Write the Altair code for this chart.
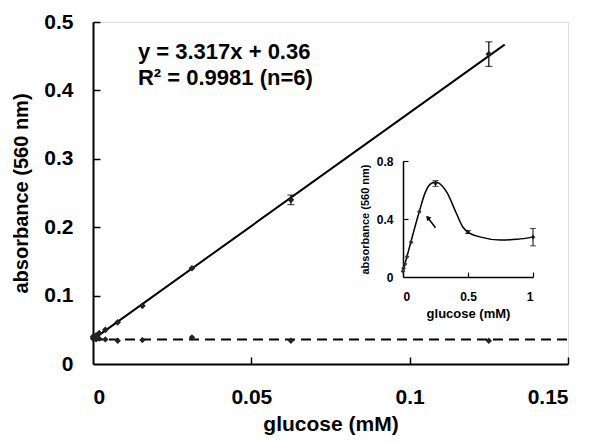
import altair as alt
import pandas as pd

FONT = "Liberation Sans"

# ---- main panel data ----
fit_x = [0.0, 0.13]
fit_y = [0.036, 0.467]
main_x = [0.0, 0.00098, 0.00195, 0.0039, 0.0078, 0.0156, 0.03125, 0.0625, 0.125]
main_y = [0.040, 0.042, 0.045, 0.050, 0.061, 0.085, 0.140, 0.240, 0.453]
main_err = [0.0, 0.0, 0.0, 0.0, 0.002, 0.002, 0.003, 0.007, 0.018]
ctrl_x = [0.0, 0.00098, 0.00195, 0.0039, 0.0078, 0.0156, 0.03125, 0.0625, 0.125]
ctrl_y = [0.037, 0.036, 0.037, 0.036, 0.034, 0.035, 0.039, 0.034, 0.034]
dash_x = [0.0, 0.15]
dash_y = [0.036, 0.036]
eq_text = ["y = 3.317x + 0.36", "R\u00b2 = 0.9981 (n=6)"]
eq_x = [0.0142, 0.0142]
eq_y = [0.456, 0.418]

# ---- inset data ----
ins_x = [0.0, 0.0039, 0.0156, 0.03125, 0.0625, 0.125, 0.25, 0.5, 1.0]
ins_y = [0.04, 0.06, 0.09, 0.14, 0.24, 0.45, 0.645, 0.31, 0.275]
ins_err = [0.0, 0.0, 0.0, 0.0, 0.0, 0.0, 0.02, 0.01, 0.06]
curve_x = [0.0, 0.03, 0.06, 0.125, 0.17, 0.21, 0.25, 0.3, 0.34, 0.41, 0.46, 0.5, 0.6, 0.75, 0.88, 1.0]
curve_y = [0.04, 0.14, 0.24, 0.45, 0.58, 0.64, 0.655, 0.63, 0.58, 0.44, 0.345, 0.31, 0.275, 0.255, 0.26, 0.275]
arrow_x = [0.25, 0.19]
arrow_y = [0.34, 0.41]

W, H = 475, 342
INS_X_RANGE = [310, 440]
INS_Y_RANGE = [255, 139]

fit_df = pd.DataFrame({"x": fit_x, "y": fit_y})
main_df = pd.DataFrame({"x": main_x, "y": main_y,
                        "lo": [a - b for a, b in zip(main_y, main_err)],
                        "hi": [a + b for a, b in zip(main_y, main_err)]})
err_df = main_df[main_df["x"] > 0.05]
ctrl_df = pd.DataFrame({"x": ctrl_x, "y": ctrl_y})
dash_df = pd.DataFrame({"x": dash_x, "y": dash_y})
eq_df = pd.DataFrame({"x": eq_x, "y": eq_y, "t": eq_text})

ins_df = pd.DataFrame({"x": ins_x, "y": ins_y,
                       "lo": [a - b for a, b in zip(ins_y, ins_err)],
                       "hi": [a + b for a, b in zip(ins_y, ins_err)]})
ins_err_df = ins_df[ins_df["x"] >= 0.25]
curve_df = pd.DataFrame({"x": curve_x, "y": curve_y})
arrow_df = pd.DataFrame({"x": arrow_x, "y": arrow_y})
arrow_head = arrow_df.iloc[[1]]

mxs = alt.Scale(domain=[0, 0.15], nice=False, zero=False)
mys = alt.Scale(domain=[0, 0.5], nice=False, zero=False)
ixs = alt.Scale(domain=[0, 1], nice=False, zero=False, range=INS_X_RANGE)
iys = alt.Scale(domain=[0, 0.8], nice=False, zero=False, range=INS_Y_RANGE)

main_x_axis = alt.Axis(orient="bottom", values=[0, 0.05, 0.1, 0.15], format=".2~f",
                       tickSize=0, labelPadding=22, titlePadding=6, grid=False,
                       domainColor="black", domainWidth=2,
                       labelFont=FONT, labelFontSize=21, labelFontWeight="bold", labelColor="black",
                       titleFont=FONT, titleFontSize=21, titleFontWeight="bold", titleColor="black")
main_y_axis = alt.Axis(orient="left", values=[0, 0.1, 0.2, 0.3, 0.4, 0.5], format=".1~f",
                       tickSize=0, labelPadding=20, titlePadding=12, grid=False,
                       domainColor="black", domainWidth=2,
                       labelFont=FONT, labelFontSize=21, labelFontWeight="bold", labelColor="black",
                       titleFont=FONT, titleFontSize=20, titleFontWeight="bold", titleColor="black")
main_x_ticks = alt.Axis(orient="bottom", values=[0.05, 0.1, 0.15], offset=-7, tickSize=7,
                        tickWidth=1.5, tickColor="black", labels=False, domain=False, grid=False)
main_y_ticks = alt.Axis(orient="left", values=[0.1, 0.2, 0.3, 0.4, 0.5], offset=-7, tickSize=7,
                        tickWidth=1.5, tickColor="black", labels=False, domain=False, grid=False)

fit = alt.Chart(fit_df).mark_line(color="black", strokeWidth=2).encode(
    x=alt.X("x:Q", scale=mxs, axis=main_x_axis, title="glucose (mM)"),
    y=alt.Y("y:Q", scale=mys, axis=main_y_axis, title="absorbance  (560 nm)"))
dash = alt.Chart(dash_df).mark_line(color="black", strokeWidth=2, strokeDash=[10, 6]).encode(
    x=alt.X("x:Q", scale=mxs, axis=None), y=alt.Y("y:Q", scale=mys, axis=None))
ebar = alt.Chart(err_df).mark_rule(color="black", strokeWidth=1.2).encode(
    x=alt.X("x:Q", scale=mxs, axis=None), y=alt.Y("lo:Q", scale=mys, axis=None), y2="hi:Q")
ecap_lo = alt.Chart(err_df).mark_tick(color="black", orient="horizontal", size=7, thickness=1.2).encode(
    x=alt.X("x:Q", scale=mxs, axis=None), y=alt.Y("lo:Q", scale=mys, axis=None))
ecap_hi = alt.Chart(err_df).mark_tick(color="black", orient="horizontal", size=7, thickness=1.2).encode(
    x=alt.X("x:Q", scale=mxs, axis=None), y=alt.Y("hi:Q", scale=mys, axis=None))
pts = alt.Chart(main_df).mark_point(shape="diamond", filled=True, color="#222222", size=45, opacity=1).encode(
    x=alt.X("x:Q", scale=mxs, axis=None), y=alt.Y("y:Q", scale=mys, axis=None))
cpts = alt.Chart(ctrl_df).mark_point(shape="diamond", filled=True, color="#222222", size=40, opacity=1).encode(
    x=alt.X("x:Q", scale=mxs, axis=None), y=alt.Y("y:Q", scale=mys, axis=None))
eq = alt.Chart(eq_df).mark_text(align="left", baseline="middle", font=FONT, fontSize=22,
                                fontWeight="bold", color="black").encode(
    x=alt.X("x:Q", scale=mxs, axis=None), y=alt.Y("y:Q", scale=mys, axis=None), text="t:N")
mticks = alt.Chart(main_df).mark_point(opacity=0).encode(
    x=alt.X("x:Q", scale=mxs, axis=main_x_ticks, title=None),
    y=alt.Y("y:Q", scale=mys, axis=main_y_ticks, title=None))

main = alt.layer(fit, dash, ebar, ecap_lo, ecap_hi, pts, cpts, eq, mticks).resolve_axis(
    x="independent", y="independent")

# ---- inset ----
ins_x_axis = alt.Axis(orient="bottom", values=[0, 0.5, 1], format=".1~f", offset=-87,
                      tickSize=0, labelPadding=14, titlePadding=5, grid=False,
                      domainColor="black", domainWidth=1.5,
                      labelFont=FONT, labelFontSize=12, labelFontWeight="bold", labelColor="black",
                      titleFont=FONT, titleFontSize=13, titleFontWeight="bold", titleColor="black")
ins_y_axis = alt.Axis(orient="left", values=[0, 0.4, 0.8], format=".1~f", offset=-310,
                      tickSize=0, labelPadding=10, titlePadding=6, grid=False,
                      domainColor="black", domainWidth=1.5,
                      labelFont=FONT, labelFontSize=12, labelFontWeight="bold", labelColor="black",
                      titleFont=FONT, titleFontSize=11, titleFontWeight="bold", titleColor="black")
ins_x_ticks = alt.Axis(orient="bottom", values=[0.5, 1], offset=-92, tickSize=5, tickWidth=1.2,
                       tickColor="black", labels=False, domain=False, grid=False)
ins_y_ticks = alt.Axis(orient="left", values=[0.4, 0.8], offset=-315, tickSize=5, tickWidth=1.2,
                       tickColor="black", labels=False, domain=False, grid=False)

icurve = alt.Chart(curve_df).mark_line(color="black", strokeWidth=1.5, interpolate="monotone").encode(
    x=alt.X("x:Q", scale=ixs, axis=ins_x_axis, title="glucose (mM)"),
    y=alt.Y("y:Q", scale=iys, axis=ins_y_axis, title="absorbance  (560 nm)"))
ipts = alt.Chart(ins_df).mark_point(shape="diamond", filled=True, color="#333333", size=22, opacity=1).encode(
    x=alt.X("x:Q", scale=ixs, axis=None), y=alt.Y("y:Q", scale=iys, axis=None))
iebar = alt.Chart(ins_err_df).mark_rule(color="black", strokeWidth=1).encode(
    x=alt.X("x:Q", scale=ixs, axis=None), y=alt.Y("lo:Q", scale=iys, axis=None), y2="hi:Q")
icap_lo = alt.Chart(ins_err_df).mark_tick(color="black", orient="horizontal", size=6, thickness=1).encode(
    x=alt.X("x:Q", scale=ixs, axis=None), y=alt.Y("lo:Q", scale=iys, axis=None))
icap_hi = alt.Chart(ins_err_df).mark_tick(color="black", orient="horizontal", size=6, thickness=1).encode(
    x=alt.X("x:Q", scale=ixs, axis=None), y=alt.Y("hi:Q", scale=iys, axis=None))
ashaft = alt.Chart(arrow_df).mark_line(color="black", strokeWidth=1.5).encode(
    x=alt.X("x:Q", scale=ixs, axis=None), y=alt.Y("y:Q", scale=iys, axis=None))
ahead = alt.Chart(arrow_head).mark_point(shape="triangle-up", filled=True, color="black",
                                         size=30, angle=318, opacity=1).encode(
    x=alt.X("x:Q", scale=ixs, axis=None), y=alt.Y("y:Q", scale=iys, axis=None))
iticks = alt.Chart(ins_df).mark_point(opacity=0).encode(
    x=alt.X("x:Q", scale=ixs, axis=ins_x_ticks, title=None),
    y=alt.Y("y:Q", scale=iys, axis=ins_y_ticks, title=None))

inset = alt.layer(icurve, ipts, iebar, icap_lo, icap_hi, ashaft, ahead, iticks).resolve_axis(
    x="independent", y="independent")

chart = alt.layer(main, inset).resolve_scale(x="independent", y="independent").properties(
    width=W, height=H,
    autosize=alt.AutoSizeParams(type="none"),
    padding={"left": 85, "top": 14, "right": 24, "bottom": 80},
).configure_view(stroke=None).configure(background="white")

chart.save("out.html", embed_options={"renderer": "svg", "actions": False})
